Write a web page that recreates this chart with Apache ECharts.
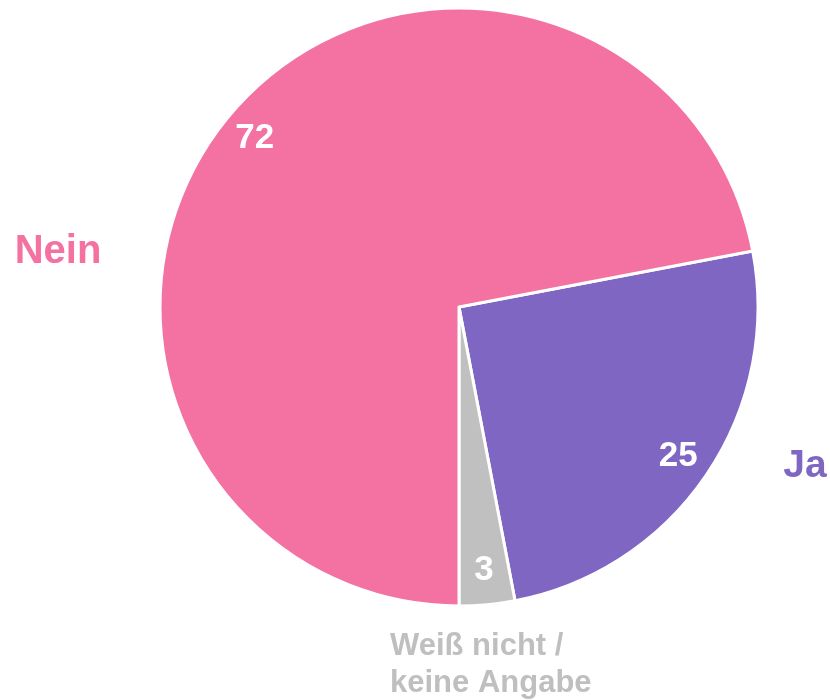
<!DOCTYPE html>
<html>
<head>
<meta charset="utf-8">
<script src="https://cdn.jsdelivr.net/npm/echarts@6/dist/echarts.min.js"></script>
<style>
  html, body { margin: 0; padding: 0; background: #fff; }
  #chart { width: 830px; height: 700px; }
</style>
</head>
<body>
<div id="chart"></div>
<script>
const categories = ["Ja", "Weiß nicht /\nkeine Angabe", "Nein"];
const values = [25, 3, 72];
const colors = ["#7E66C2", "#C0C0C0", "#F372A2"];
const nameColors = ["#7E66C2", "#BFBFBF", "#F372A2"];

// where the outer name labels sit (px) and how they are anchored
const namePos = [[805, 466], [390, 665], [58, 252]];
const nameAlign = ["center", "left", "center"];
const nameSize = [39, 31, 40];

const FONT = "'Liberation Sans', Arial, sans-serif";
const CENTER = [459, 307];
const R = 299;

const data = categories.map((name, i) => ({
  name,
  value: values[i],
  itemStyle: { color: colors[i] },
  label: { color: nameColors[i], lineHeight: i === 1 ? 37 : 46, fontSize: nameSize[i] }
}));

const chart = echarts.init(document.getElementById("chart"));

chart.setOption({
  animation: false,
  series: [
    {
      // slices + outer name labels
      type: "pie",
      center: CENTER,
      radius: R,
      startAngle: 10.8,
      clockwise: true,
      silent: true,
      data,
      itemStyle: { borderColor: "#fff", borderWidth: 3 },
      label: {
        show: true,
        position: "outside",
        formatter: "{b}",
        fontFamily: FONT,
        fontWeight: "bold"
      },
      labelLine: { show: false },
      labelLayout: (p) => {
        const i = p.dataIndex;
        return {
          x: namePos[i][0],
          y: namePos[i][1],
          align: nameAlign[i],
          verticalAlign: "middle"
        };
      }
    },
    {
      // transparent ring used to place the value labels near the rim
      type: "pie",
      center: CENTER,
      radius: [225, R],
      startAngle: 10.8,
      clockwise: true,
      silent: true,
      data: categories.map((name, i) => ({ name, value: values[i] })),
      itemStyle: { color: "transparent", borderWidth: 0 },
      label: {
        show: true,
        position: "inside",
        formatter: "{c}",
        fontFamily: FONT,
        fontWeight: "bold",
        fontSize: 35,
        color: "#fff"
      },
      labelLine: { show: false }
    }
  ]
});
</script>
</body>
</html>
